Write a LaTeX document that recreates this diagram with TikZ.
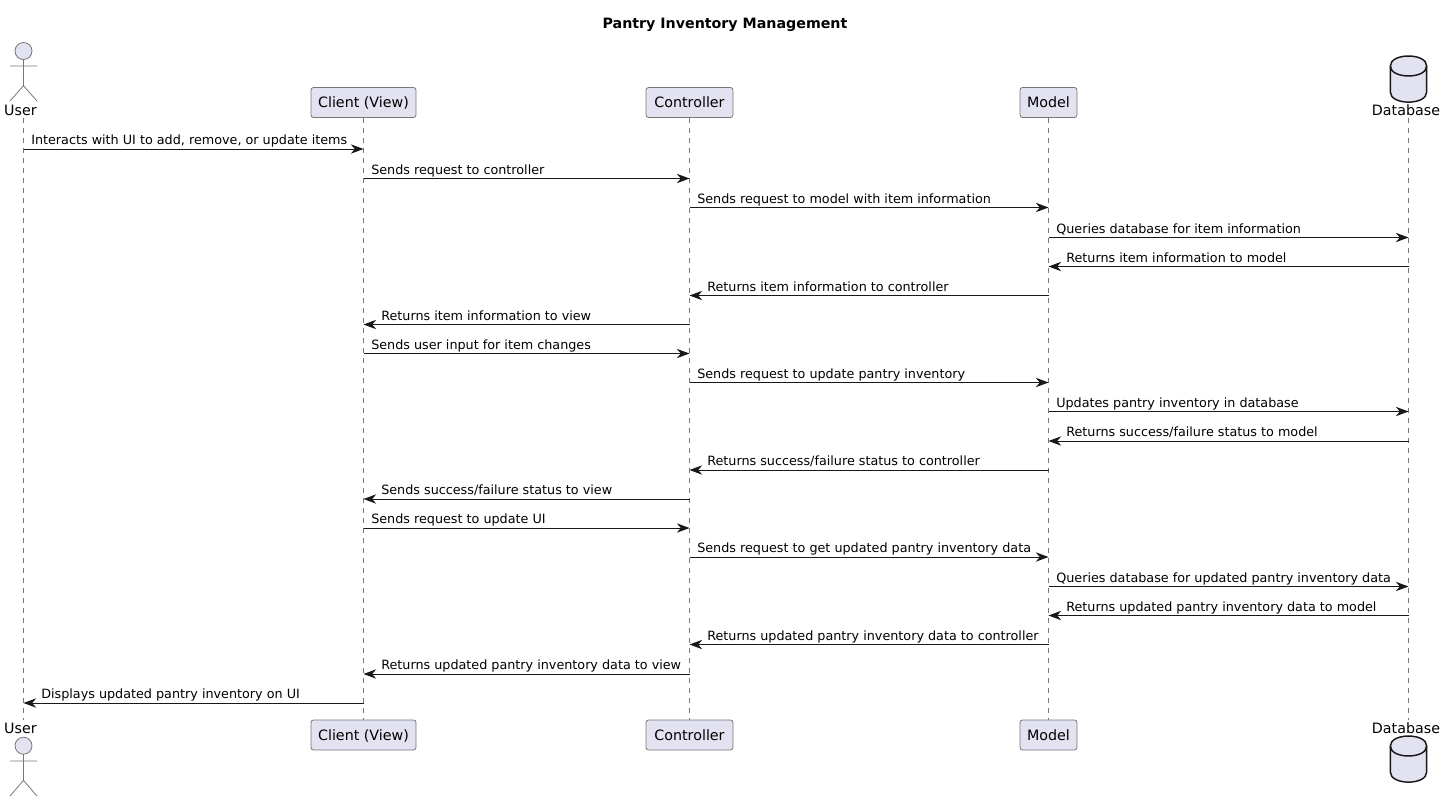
\documentclass[tikz,border=0pt]{standalone}
\usepackage{fontspec}
\setmainfont{DejaVu Sans}
\usetikzlibrary{arrows.meta}
\definecolor{ink}{HTML}{181818}
\definecolor{thin}{HTML}{777777}
\definecolor{partfill}{HTML}{E2E2F0}
\tikzset{
  x=0.75pt,y=-0.75pt,
  partbox/.style={draw=thin,line width=0.6pt,fill=partfill,rounded corners=1.9pt,inner sep=0pt,
    minimum height=22.5pt,text height=8pt,text depth=1.25pt,font=\fontsize{10.7pt}{12pt}\selectfont,text=black},
  lowerbox/.style={text height=8.5pt,text depth=1pt},
  namelabel/.style={inner sep=0pt,anchor=base,font=\fontsize{10.7pt}{12pt}\selectfont,text=black},
  life/.style={draw=thin,line width=0.6pt,dash pattern=on 3.75pt off 3.75pt},
  msg/.style={draw=ink,line width=0.75pt,-{Stealth[length=9.5pt,width=7pt,inset=3pt,color=ink]}},
  msglabel/.style={inner sep=0pt,anchor=base west,font=\fontsize{9.57pt}{12pt}\selectfont,text=black},
  actorline/.style={draw=thin,line width=0.6pt},
  dbline/.style={draw=ink,line width=1.1pt,fill=partfill},
}
\begin{document}
\begin{tikzpicture}
\useasboundingbox (0,0) rectangle (1445,801);
\node[inner sep=0pt,anchor=base,font=\fontsize{10.67pt}{12pt}\selectfont\bfseries] (title) at (725,28) {Pantry Inventory Management};
% lifeline anchors
\coordinate (u) at (23.5,117.5);
\coordinate (ub) at (23.5,720);
\coordinate (db) at (1408.5,117.5);
\coordinate (dbb) at (1408.5,720);
% lifelines sit beneath the boxes
\coordinate (cx) at (363.5,102.5);
\coordinate (kx) at (689.5,102.5);
\coordinate (mx) at (1048.5,102.5);
% participant boxes
\node[partbox,minimum width=78.75pt] (c) at (cx) {Client (View)};
\node[partbox,minimum width=65.25pt] (k) at (kx) {Controller};
\node[partbox,minimum width=42.75pt] (m) at (mx) {Model};
\node[partbox,lowerbox,minimum width=78.75pt] (cb) at (363.5,735) {Client (View)};
\node[partbox,lowerbox,minimum width=65.25pt] (kb) at (689.5,735) {Controller};
\node[partbox,lowerbox,minimum width=42.75pt] (mb) at (1048.5,735) {Model};
% lifelines
\draw[life] (u) -- (ub);
\draw[life] (c.south) -- (cb.north);
\draw[life] (k.south) -- (kb.north);
\draw[life] (m.south) -- (mb.north);
\draw[life] (db) -- (dbb);
% actor top
\node[namelabel] (ulabel) at (20.5,115) {User};
\draw[actorline,fill=partfill] (23.5,51) circle[radius=8.5];
\draw[actorline] (23.5,59.5) -- (23.5,85.7) (10,66) -- (37,66) (10,101) -- (23.5,85.7) -- (37,101);
% actor bottom
\node[namelabel] (ulabelb) at (20.5,733) {User};
\draw[actorline,fill=partfill] (23.5,745.7) circle[radius=8.5];
\draw[actorline] (23.5,754.2) -- (23.5,780.4) (10,761) -- (37,761) (10,796) -- (23.5,780.4) -- (37,796);
% database top
\node[namelabel] (dlabel) at (1406,115) {Database};
\draw[dbline] (1390.3,66) .. controls (1390.3,52.7) and (1426.7,52.7) .. (1426.7,66)
  -- (1426.7,92) .. controls (1426.7,105.5) and (1390.3,105.5) .. (1390.3,92) -- cycle;
\draw[dbline,fill=none] (1390.3,66) .. controls (1390.3,79.3) and (1426.7,79.3) .. (1426.7,66);
% database bottom
\node[namelabel] (dlabelb) at (1406,733) {Database};
\draw[dbline] (1390.3,746) .. controls (1390.3,732.7) and (1426.7,732.7) .. (1426.7,746)
  -- (1426.7,772) .. controls (1426.7,785.5) and (1390.3,785.5) .. (1390.3,772) -- cycle;
\draw[dbline,fill=none] (1390.3,746) .. controls (1390.3,759.3) and (1426.7,759.3) .. (1426.7,746);
% messages running to the right
\foreach \y/\a/\b/\t [count=\i] in {
  149/u/c/{Interacts with UI to add, remove, or update items},
  178.5/c/k/{Sends request to controller},
  207.5/k/m/{Sends request to model with item information},
  237.5/m/db/{Queries database for item information},
  353.5/c/k/{Sends user input for item changes},
  382.5/k/m/{Sends request to update pantry inventory},
  411.5/m/db/{Updates pantry inventory in database},
  528/c/k/{Sends request to update UI},
  557/k/m/{Sends request to get updated pantry inventory data},
  586.5/m/db/{Queries database for updated pantry inventory data}}{
  \coordinate (r\i) at (0,\y);
  \draw[msg] (\a |- r\i) -- (\b |- r\i);
  \path (\a |- r\i) ++(7.5,-4.5) node[msglabel] (rl\i) {\t};
}
% messages running to the left
\foreach \y/\a/\b/\t [count=\i] in {
  266.5/db/m/{Returns item information to model},
  295.5/m/k/{Returns item information to controller},
  324.5/k/c/{Returns item information to view},
  441/db/m/{Returns success/failure status to model},
  470/m/k/{Returns success/failure status to controller},
  499/k/c/{Sends success/failure status to view},
  615.5/db/m/{Returns updated pantry inventory data to model},
  644.5/m/k/{Returns updated pantry inventory data to controller},
  674/k/c/{Returns updated pantry inventory data to view},
  703/c/u/{Displays updated pantry inventory on UI}}{
  \coordinate (s\i) at (0,\y);
  \draw[msg] (\a |- s\i) -- (\b |- s\i);
  \path (\b |- s\i) ++(17.5,-4.5) node[msglabel] (sl\i) {\t};
}
\end{tikzpicture}
\end{document}
